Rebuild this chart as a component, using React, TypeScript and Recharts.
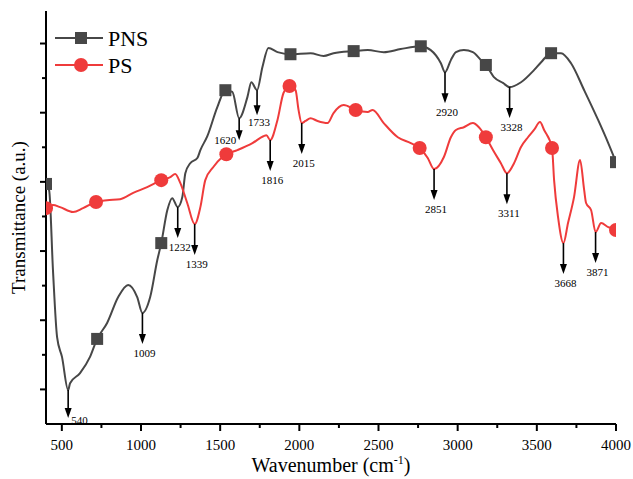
import { ComposedChart, Line, Scatter, XAxis, YAxis, Legend } from 'recharts';

// FTIR spectra, values (transmittance in arbitrary units)
const PNS_X = [400, 420, 444, 470, 501, 540, 552, 615, 678, 723, 786, 856, 919, 976, 1009, 1058, 1103, 1128, 1166, 1197, 1232, 1261, 1280, 1311, 1356, 1375, 1419, 1482, 1533, 1577, 1620, 1672, 1697, 1733, 1767, 1805, 1862, 1944, 2071, 2153, 2216, 2343, 2432, 2533, 2640, 2767, 2830, 2894, 2920, 2957, 2989, 3039, 3096, 3147, 3178, 3229, 3286, 3328, 3400, 3482, 3527, 3590, 3653, 3716, 3799, 3887, 3951, 4000];
const PNS_Y = [6.94, 6.75, 4.45, 2.51, 1.94, 0.98, 1.18, 1.47, 1.94, 2.46, 2.92, 3.67, 4.02, 3.67, 3.21, 3.67, 4.74, 5.23, 6.18, 6.53, 6.27, 6.56, 7.25, 7.54, 7.69, 7.92, 8.32, 9.16, 9.65, 9.6, 8.84, 9.45, 9.88, 9.65, 10.32, 10.87, 10.75, 10.69, 10.72, 10.64, 10.72, 10.78, 10.81, 10.75, 10.84, 10.92, 10.81, 10.43, 10.17, 10.52, 10.75, 10.81, 10.75, 10.52, 10.38, 10.03, 9.86, 9.74, 9.88, 10.23, 10.46, 10.72, 10.72, 10.43, 9.65, 8.79, 8.12, 7.57];

const PS_X = [400, 444, 489, 571, 634, 716, 786, 868, 951, 1039, 1128, 1185, 1216, 1248, 1292, 1339, 1375, 1406, 1457, 1514, 1539, 1609, 1704, 1773, 1792, 1816, 1862, 1900, 1938, 1976, 1995, 2015, 2039, 2071, 2115, 2178, 2216, 2280, 2356, 2432, 2463, 2533, 2622, 2704, 2760, 2811, 2851, 2913, 2957, 2989, 3039, 3096, 3134, 3178, 3223, 3273, 3311, 3356, 3400, 3444, 3482, 3520, 3546, 3596, 3609, 3634, 3668, 3697, 3735, 3773, 3799, 3811, 3843, 3871, 3906, 3951, 3988, 4000];
const PS_Y = [6.24, 6.33, 6.27, 6.13, 6.24, 6.42, 6.47, 6.5, 6.68, 6.85, 7.05, 7.14, 7.23, 6.97, 6.39, 5.78, 6.27, 7.05, 7.43, 7.72, 7.8, 7.92, 8.12, 8.32, 8.35, 8.21, 8.79, 9.57, 9.77, 9.65, 9.08, 8.7, 8.76, 8.84, 8.76, 8.7, 8.99, 9.22, 9.08, 9.02, 9.08, 8.7, 8.29, 8.12, 7.98, 7.69, 7.37, 7.72, 8.29, 8.5, 8.58, 8.7, 8.58, 8.29, 7.92, 7.54, 7.25, 7.54, 8.01, 8.29, 8.5, 8.73, 8.5, 7.98, 7.05, 5.98, 5.23, 5.81, 6.56, 7.63, 6.76, 6.39, 6.18, 5.55, 5.81, 5.69, 5.64, 5.61];

// symbol positions (Origin draws a marker every ~400 cm-1)
const PNS_MARK_X = [400, 723, 1128, 1533, 1944, 2343, 2767, 3178, 3590, 4000];
const PNS_MARK_Y = [6.94, 2.46, 5.23, 9.65, 10.69, 10.78, 10.92, 10.38, 10.72, 7.57];
const PS_MARK_X = [400, 716, 1128, 1539, 1938, 2356, 2760, 3178, 3596, 4000];
const PS_MARK_Y = [6.24, 6.42, 7.05, 7.8, 9.77, 9.08, 7.98, 8.29, 7.98, 5.61];

// peak annotations: wavenumber and curve value at the arrow's start
const PEAK_X = [540, 1009, 1232, 1339, 1620, 1733, 1816, 2015, 2851, 2920, 3311, 3328, 3668, 3871];
const PEAK_Y = [0.98, 3.21, 6.27, 5.78, 8.84, 9.65, 8.21, 8.7, 7.37, 10.17, 7.25, 9.74, 5.23, 5.55];

const X_TICKS = [500, 750, 1000, 1250, 1500, 1750, 2000, 2250, 2500, 2750, 3000, 3250, 3500, 3750, 4000];
const Y_TICKS = [1, 2, 3, 4, 5, 6, 7, 8, 9, 10, 11];

const GREY = '#474747';
const RED = '#ef3b3b';
const FONT = '"Liberation Serif", "Times New Roman", serif';

const zip = (xs: number[], ys: number[]) => xs.map((x, i) => ({ x, y: ys[i] }));
const pnsData = zip(PNS_X, PNS_Y);
const psData = zip(PS_X, PS_Y);
const pnsMarks = zip(PNS_MARK_X, PNS_MARK_Y);
const psMarks = zip(PS_MARK_X, PS_MARK_Y);
const peaks = PEAK_X.map((x, i) => ({ x, y: PEAK_Y[i], label: String(x) }));

// a few labels sit off the default spot in the original
const NUDGE: Record<string, { len?: number; dx?: number; dy?: number; anchor?: string }> = {
  '540': { len: 28, dx: 1, dy: -7, anchor: 'start' },
  '1620': { len: 22, dx: -16, dy: -9 },
  '1733': { len: 25, dy: -2 },
};

const XTick = ({ x, y, payload }: any) => {
  const major = payload.value % 500 === 0;
  return (
    <g>
      <line x1={x} x2={x} y1={y} y2={y + (major ? 7 : 4)} stroke="#000" strokeWidth={2} />
      {major && (
        <text x={x} y={y + 26} textAnchor="middle" fontSize={15} fontFamily={FONT} fill="#000">
          {payload.value}
        </text>
      )}
    </g>
  );
};

const YTick = ({ x, y, payload }: any) => {
  const major = payload.value % 2 === 1;
  return <line x1={x} x2={x - (major ? 6 : 4)} y1={y} y2={y} stroke="#000" strokeWidth={2} />;
};

const Square = ({ cx, cy }: any) => <rect x={cx - 6} y={cy - 6} width={12} height={12} fill={GREY} />;
const Dot = ({ cx, cy }: any) => <circle cx={cx} cy={cy} r={7} fill={RED} />;

const Arrow = ({ cx, cy, payload }: any) => {
  const n = NUDGE[payload.label] || {};
  const tip = cy + (n.len ?? 31);
  return (
    <g>
      <line x1={cx} y1={cy} x2={cx} y2={tip - 8} stroke="#000" strokeWidth={1.6} />
      <path d={`M${cx - 3.5},${tip - 10}L${cx + 3.5},${tip - 10}L${cx},${tip}Z`} fill="#000" />
      <text
        x={cx + 2 + (n.dx ?? 0)}
        y={tip + 13 + (n.dy ?? 0)}
        textAnchor={n.anchor ?? 'middle'}
        fontSize={11}
        fontFamily={FONT}
        fill="#000"
      >
        {payload.label}
      </text>
    </g>
  );
};

const LegendBox = () => (
  <svg width={170} height={85} style={{ display: 'block' }}>
    <line x1={55} x2={103} y1={38} y2={38} stroke={GREY} strokeWidth={2} />
    <rect x={75} y={32} width={12} height={12} fill={GREY} />
    <text x={108} y={46} fontSize={22} fontFamily={FONT} fill="#000">PNS</text>
    <line x1={55} x2={103} y1={65} y2={65} stroke={RED} strokeWidth={2} />
    <circle cx={81} cy={65} r={7} fill={RED} />
    <text x={108} y={73} fontSize={22} fontFamily={FONT} fill="#000">PS</text>
  </svg>
);

const XTitle = ({ viewBox }: any) => (
  <text
    x={viewBox.x + viewBox.width / 2}
    y={viewBox.y + 48}
    textAnchor="middle"
    fontSize={20}
    fontFamily={FONT}
    fill="#000"
  >
    Wavenumber (cm
    <tspan dy={-8} fontSize={12}>-1</tspan>
    <tspan dy={8}>)</tspan>
  </text>
);

const YTitle = ({ viewBox }: any) => {
  const cx = 18;
  const cy = viewBox.y + viewBox.height / 2;
  return (
    <text
      x={cx}
      y={cy}
      transform={`rotate(-90 ${cx} ${cy})`}
      textAnchor="middle"
      dominantBaseline="central"
      fontSize={19}
      fontFamily={FONT}
      fill="#000"
    >
      Transmittance (a.u.)
    </text>
  );
};

const axisLine = { stroke: '#000', strokeWidth: 2 };

export default function App() {
  return (
    <div style={{ position: 'absolute', left: 0, top: 0, width: 633, height: 479, background: '#fff' }}>
      <ComposedChart width={633} height={479} margin={{ top: 11, right: 17, bottom: 0, left: 0 }}>
        <XAxis
          dataKey="x"
          type="number"
          domain={[400, 4000]}
          allowDataOverflow
          ticks={X_TICKS}
          interval={0}
          tick={<XTick />}
          tickLine={false}
          tickSize={0}
          tickMargin={0}
          axisLine={axisLine}
          height={55}
          label={<XTitle />}
        />
        <XAxis xAxisId="top" orientation="top" type="number" domain={[400, 4000]} tick={false} tickLine={false} axisLine={axisLine} height={0} />
        <YAxis
          dataKey="y"
          type="number"
          domain={[0, 11.94]}
          allowDataOverflow
          ticks={Y_TICKS}
          interval={0}
          tick={<YTick />}
          tickLine={false}
          tickSize={0}
          tickMargin={0}
          axisLine={axisLine}
          width={46}
          label={<YTitle />}
        />
        <YAxis yAxisId="right" orientation="right" type="number" domain={[0, 11.94]} tick={false} tickLine={false} axisLine={axisLine} width={0} />
        <Legend
          layout="vertical"
          align="center"
          verticalAlign="middle"
          content={<LegendBox />}
          wrapperStyle={{ position: 'absolute', left: 0, top: 0, width: 170, height: 85 }}
        />
        <Line data={pnsData} dataKey="y" type="monotone" stroke={GREY} strokeWidth={2} dot={false} activeDot={false} isAnimationActive={false} legendType="none" />
        <Line data={psData} dataKey="y" type="monotone" stroke={RED} strokeWidth={2} dot={false} activeDot={false} isAnimationActive={false} legendType="none" />
        <Scatter data={pnsMarks} dataKey="y" shape={<Square />} isAnimationActive={false} legendType="none" />
        <Scatter data={psMarks} dataKey="y" shape={<Dot />} isAnimationActive={false} legendType="none" />
        <Scatter data={peaks} dataKey="y" shape={<Arrow />} isAnimationActive={false} legendType="none" />
      </ComposedChart>
    </div>
  );
}
